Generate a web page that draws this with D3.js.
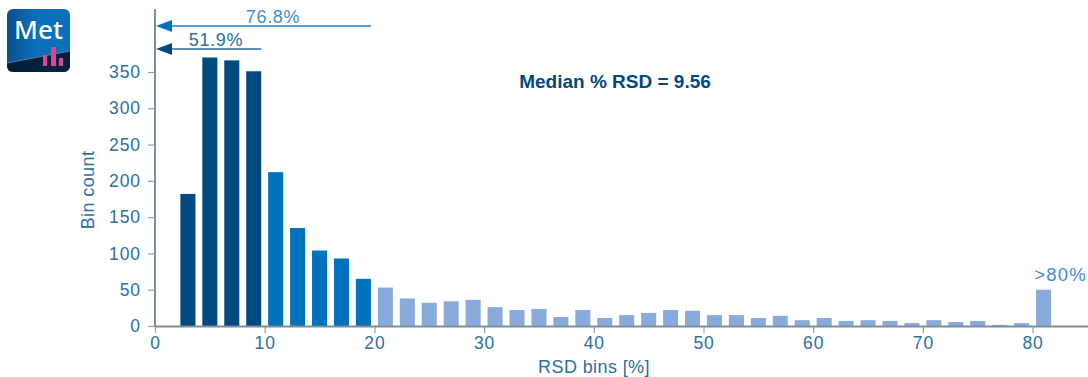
<!DOCTYPE html>
<html>
<head>
<meta charset="utf-8">
<script src="https://cdn.jsdelivr.net/npm/d3@7"></script>
<style>
  html, body { margin: 0; padding: 0; background: #fff; }
  svg { display: block; }
  text { font-family: "Liberation Sans", Arial, sans-serif; }
  .tick-label text { font-size: 17.5px; letter-spacing: 0.9px; fill: #2b6f9e; }
</style>
</head>
<body>
<div id="chart"></div>
<script>
// bin centres, RSD %
var binCenters = [3, 5, 7, 9, 11, 13, 15, 17, 19, 21, 23, 25, 27, 29, 31, 33, 35, 37, 39, 41,
                  43, 45, 47, 49, 51, 53, 55, 57, 59, 61, 63, 65, 67, 69, 71, 73, 75, 77, 79, 81];
var binCounts = [182, 370, 366, 351, 212, 135, 104, 93, 65, 53, 38, 32, 34, 36, 26, 22, 23.5, 12.5, 22, 11,
                 15, 18, 22, 21, 15, 15, 11, 14, 8, 11, 7, 8, 7, 4, 8, 5.5, 7, 1.5, 4, 50];
var xTicks = [0, 10, 20, 30, 40, 50, 60, 70, 80];
var yTicks = [0, 50, 100, 150, 200, 250, 300, 350];
var cumulative = [
    { label: "76.8%", end: 19.7 },
    { label: "51.9%", end: 9.7 }
];

var width = 1088, height = 377;
var margin = { top: 9, right: 0, bottom: 51, left: 155 };
var baseY = height - margin.bottom;

var x = d3.scaleLinear().domain([0, 85]).range([margin.left, margin.left + 85 * 10.97]);
var y = d3.scaleLinear().domain([0, 350]).range([baseY, 72]);

var BAR_W = 1.37;

var svg = d3.select("#chart").append("svg")
    .attr("width", width)
    .attr("height", height)
    .attr("viewBox", "0,0," + width + "," + height);

function barColor(c) {
    if (c < 10) return "#004a80";
    if (c < 20) return "#0071bc";
    return "#89abdb";
}

svg.append("g").selectAll("rect")
    .data(binCenters)
    .enter().append("rect")
    .attr("x", function (d) { return x(d - BAR_W / 2); })
    .attr("width", x(BAR_W) - x(0))
    .attr("y", function (d, i) { return y(binCounts[i]); })
    .attr("height", function (d, i) { return baseY - y(binCounts[i]); })
    .style("fill", function (d) { return barColor(d); });

// axes
var xAxis = d3.axisBottom(x).tickValues(xTicks).tickSize(7).tickPadding(4).tickFormat(d3.format("d"));
var yAxis = d3.axisLeft(y).tickValues(yTicks).tickSize(7).tickPadding(7).tickFormat(d3.format("d"));

var gx = svg.append("g").attr("class", "tick-label")
    .attr("transform", "translate(0," + baseY + ")")
    .call(xAxis);
var gy = svg.append("g").attr("class", "tick-label")
    .attr("transform", "translate(" + margin.left + ",0)")
    .call(yAxis);

gx.select(".domain").remove();
gy.select(".domain").remove();
svg.selectAll(".tick line").style("stroke", "#8fa2ae").style("stroke-width", 1.2);

svg.append("line").attr("x1", margin.left).attr("x2", width)
    .attr("y1", baseY + 0.5).attr("y2", baseY + 0.5)
    .style("stroke", "#7b8f9b").style("stroke-width", 2);
svg.append("line").attr("x1", margin.left).attr("x2", margin.left)
    .attr("y1", margin.top).attr("y2", baseY + 1)
    .style("stroke", "#7b8f9b").style("stroke-width", 2);

// axis titles
svg.append("text")
    .attr("transform", "translate(94,190) rotate(-90)")
    .style("text-anchor", "middle")
    .style("font-size", "18px")
    .style("letter-spacing", "0.4px")
    .style("fill", "#2b6f9e")
    .text("Bin count");

svg.append("text")
    .attr("x", 594).attr("y", 373)
    .style("text-anchor", "middle")
    .style("font-size", "18px")
    .style("letter-spacing", "0.4px")
    .style("fill", "#2b6f9e")
    .text("RSD bins [%]");

svg.append("text")
    .attr("x", 615).attr("y", 88)
    .style("text-anchor", "middle")
    .style("font-size", "19px")
    .style("font-weight", "bold")
    .style("fill", "#00497f")
    .text("Median % RSD = 9.56");

svg.append("text")
    .attr("x", 1087).attr("y", 281)
    .style("text-anchor", "end")
    .style("font-size", "18.5px")
    .style("letter-spacing", "1.2px")
    .style("fill", "#3c8fd0")
    .text(">80%");

// cumulative arrows
var arrowY = [26, 49];
var arrowColor = ["#0071bc", "#004a80"];
var lineColor = ["#1f80c4", "#2f6d9c"];
var labelColor = ["#3c8fd0", "#2b6f9e"];

cumulative.forEach(function (c, i) {
    var tip = margin.left + 1, base = tip + 16;
    svg.append("line")
        .attr("x1", base).attr("x2", x(c.end))
        .attr("y1", arrowY[i]).attr("y2", arrowY[i])
        .style("stroke", lineColor[i]).style("stroke-width", 1.5);
    svg.append("path")
        .attr("d", d3.line()([[tip, arrowY[i]], [base, arrowY[i] - 6], [base, arrowY[i] + 6]]) + "Z")
        .style("fill", arrowColor[i]);
    svg.append("text")
        .attr("x", (i == 0) ? 273 : 216)
        .attr("y", arrowY[i] - 3)
        .style("text-anchor", "middle")
        .style("font-size", "18px")
        .style("letter-spacing", "0.7px")
        .style("fill", labelColor[i])
        .text(c.label);
});

// Met badge
var defs = svg.append("defs");
var grad = defs.append("linearGradient").attr("id", "badge").attr("x1", 0).attr("x2", 1).attr("y1", 0).attr("y2", 0);
grad.append("stop").attr("offset", "0").attr("stop-color", "#0d4f8c");
grad.append("stop").attr("offset", "0.45").attr("stop-color", "#0a70ba");
grad.append("stop").attr("offset", "1").attr("stop-color", "#0a70ba");
defs.append("clipPath").attr("id", "badge-clip")
    .append("rect").attr("x", 7).attr("y", 9).attr("width", 63).attr("height", 63).attr("rx", 6);

var badge = svg.append("g").attr("clip-path", "url(#badge-clip)");
badge.append("rect").attr("x", 7).attr("y", 9).attr("width", 63).attr("height", 63).style("fill", "url(#badge)");
badge.append("path").attr("d", "M7,63 L70,51 L70,72 L7,72 Z").style("fill", "#03203c");
badge.append("path").attr("d", "M7,63 L70,51").style("stroke", "#5d7f9b").style("stroke-width", 1).style("fill", "none");
badge.append("text").attr("x", 38.5).attr("y", 39)
    .style("text-anchor", "middle")
    .style("font-family", "'Noto Sans', sans-serif")
    .style("font-weight", 500)
    .style("font-size", "26px")
    .style("fill", "#fff")
    .text("Met");
badge.selectAll(".pink")
    .data([[43, 55, 4], [51, 47, 5], [59, 58, 4]])
    .enter().append("rect")
    .attr("x", function (d) { return d[0]; })
    .attr("y", function (d) { return d[1]; })
    .attr("width", function (d) { return d[2]; })
    .attr("height", function (d) { return 66 - d[1]; })
    .style("fill", "#e6418f");
</script>
</body>
</html>
